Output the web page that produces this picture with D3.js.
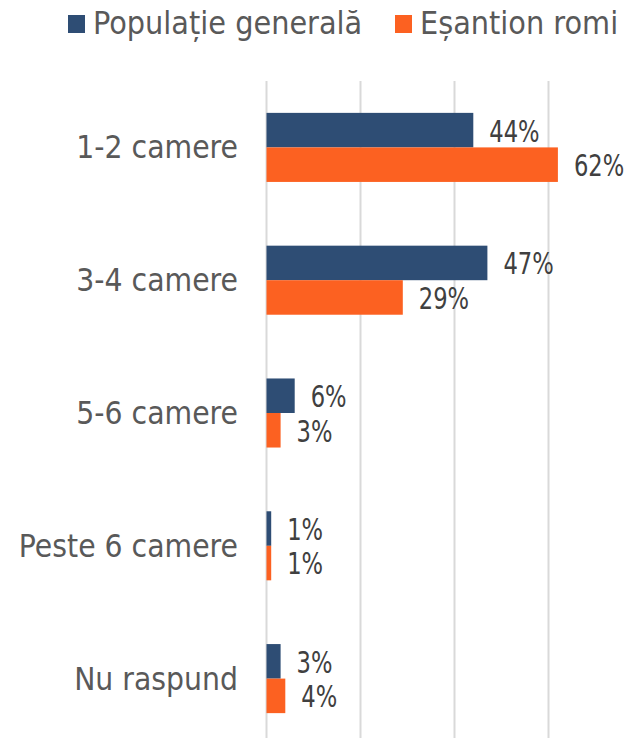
<!DOCTYPE html>
<html lang="ro">
<head>
  <meta charset="UTF-8" />
  <title>Camere</title>
  <script src="https://d3js.org/d3.v7.min.js"></script>
  <style>
    body { margin: 0; background: #fff; }
    svg { display: block; }
    .txt { font-family: 'DejaVu Sans Condensed', 'DejaVu Sans', sans-serif; }
    .val { font-family: 'DejaVu Sans Condensed', 'DejaVu Sans', sans-serif; }
  </style>
</head>
<body>
  <svg id="chart" width="642" height="738"></svg>
  <script>
    const categories = ["1-2 camere", "3-4 camere", "5-6 camere", "Peste 6 camere", "Nu raspund"];
    const seriesNames = ["Populație generală", "Eșantion romi"];
    const populatie = [44, 47, 6, 1, 3];
    const romi = [62, 29, 3, 1, 4];
    const gridTicks = [0, 20, 40, 60];
    const colors = ["#2E4D74", "#FC6121"];

    const svg = d3.select("#chart");
    const x = d3.scaleLinear().domain([0, 80]).range([266.5, 642.5]);
    const y = d3.scaleBand().domain(categories).range([81, 745]).paddingInner(0.48).paddingOuter(0.24);
    const sub = d3.scaleBand().domain([0, 1]).range([0, y.bandwidth()]);

    // grid
    svg.selectAll("line.grid").data(gridTicks).enter().append("line")
      .attr("x1", d => x(d)).attr("x2", d => x(d))
      .attr("y1", 81).attr("y2", 738)
      .attr("stroke", "#d9d9d9").attr("stroke-width", 2);

    const data = [populatie, romi];
    data.forEach((vals, s) => {
      const g = svg.append("g");
      g.selectAll("rect").data(vals).enter().append("rect")
        .attr("x", x(0))
        .attr("y", (d, i) => y(categories[i]) + sub(s))
        .attr("width", d => x(d) - x(0))
        .attr("height", sub.bandwidth())
        .attr("fill", colors[s]);
      // narrower digits, like the original's label font
      g.selectAll("text").data(vals).enter().append("text")
        .attr("class", "val")
        .attr("transform", (d, i) => `translate(${x(d) + 16},${y(categories[i]) + sub(s) + sub.bandwidth() / 2}) scale(0.84,1)`)
        .attr("dy", "0.38em")
        .attr("font-size", 30)
        .attr("fill", "#404040")
        .text(d => d + "%");
    });

    // category labels
    svg.selectAll("text.cat").data(categories).enter().append("text")
      .attr("class", "txt")
      .attr("x", 238)
      .attr("y", d => y(d) + y.bandwidth() / 2)
      .attr("dy", "0.35em")
      .attr("text-anchor", "end")
      .attr("font-size", 31.5)
      .attr("fill", "#595959")
      .text(d => d);

    // legend
    const legX = [68, 395];
    seriesNames.forEach((name, s) => {
      svg.append("rect").attr("x", legX[s]).attr("y", 15).attr("width", 17).attr("height", 18).attr("fill", colors[s]);
      svg.append("text").attr("class", "txt")
        .attr("x", legX[s] + 25).attr("y", 34)
        .attr("font-size", 32).attr("fill", "#595959").text(name);
    });
  </script>
</body>
</html>
